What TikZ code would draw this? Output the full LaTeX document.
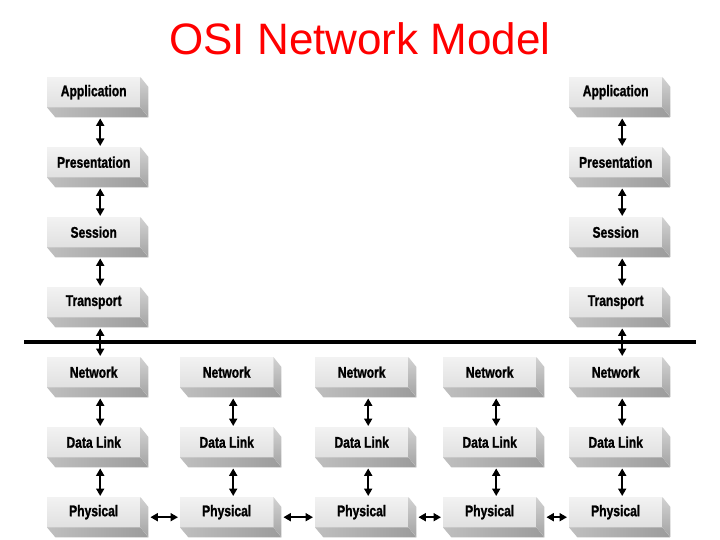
\documentclass[tikz,border=0pt]{standalone}
\usepackage{fontspec}
\setmainfont{Liberation Sans}
\newfontfamily\boxfont[FakeStretch=0.78,FakeBold=1.2]{Liberation Sans}
\usetikzlibrary{arrows.meta}
\tikzset{
  osibox/.style={anchor=north west, minimum width=93pt, minimum height=30pt,
    inner sep=0pt, top color=gray!10, bottom color=gray!24,
    font=\boxfont\bfseries\fontsize{15.5}{17}\selectfont},
  sideface/.style={top color=gray!35, bottom color=gray!72},
  bottomface/.style={left color=gray!50, right color=gray!78},
  dbl/.style={line width=2pt, {Triangle[length=7.5pt,width=8pt]}-{Triangle[length=7.5pt,width=8pt]}},
  rule/.style={line width=4.5pt},
  title/.style={anchor=base, text=red, font=\fontsize{44}{50}\selectfont}
}
\begin{document}
\begin{tikzpicture}[x=1pt,y=-1pt]
\useasboundingbox (0,0) rectangle (720,540);
\node[title] (ttl) at (360,55) {OSI Network Model};
% end columns: full stacks
\foreach \c/\x in {1/47,5/569}{
  \foreach \r/\y/\t in {app/77/Application,pre/147/Presentation,ses/217/Session,tra/287/Transport}{
    \node[osibox] (\r\c) at (\x,\y) {\t};
    \shade[sideface] (\r\c.north east) -- ++(8,10) -- ++(0,30) -- (\r\c.south east) -- cycle;
    \shade[bottomface] (\r\c.south west) -- (\r\c.south east) -- ++(8,10) -- ++(-93,0) -- cycle;
  }
}
% lower three rows, all columns
\foreach \c/\x in {1/47,2/180,3/315,4/443,5/569}{
  \foreach \r/\y/\t in {net/357/Network,dat/427/Data Link,phy/497/Physical}{
    \node[osibox] (\r\c) at (\x,\y) {\t};
    \shade[sideface] (\r\c.north east) -- ++(8,10) -- ++(0,30) -- (\r\c.south east) -- cycle;
    \shade[bottomface] (\r\c.south west) -- (\r\c.south east) -- ++(8,10) -- ++(-93,0) -- cycle;
  }
}
% thick rule
\coordinate (l1) at (24,342);
\coordinate (l2) at (696,342);
\draw[rule] (l1) -- (l2);
% vertical arrows
\foreach \c in {1,5}{
  \foreach \a/\b in {app/pre,pre/ses,ses/tra,tra/net}{
    \draw[dbl] ([xshift=6.5pt,yshift=-11pt]\a\c.south) -- ([xshift=6.5pt,yshift=1pt]\b\c.north);
  }
}
\foreach \c in {1,2,3,4,5}{
  \foreach \a/\b in {net/dat,dat/phy}{
    \draw[dbl] ([xshift=6.5pt,yshift=-11pt]\a\c.south) -- ([xshift=6.5pt,yshift=1pt]\b\c.north);
  }
}
% horizontal arrows
\foreach \a/\b in {1/2,2/3,3/4,4/5}{
  \draw[dbl] ([xshift=10pt,yshift=-5pt]phy\a.east) -- ([xshift=-2pt,yshift=-5pt]phy\b.west);
}
\end{tikzpicture}
\end{document}
